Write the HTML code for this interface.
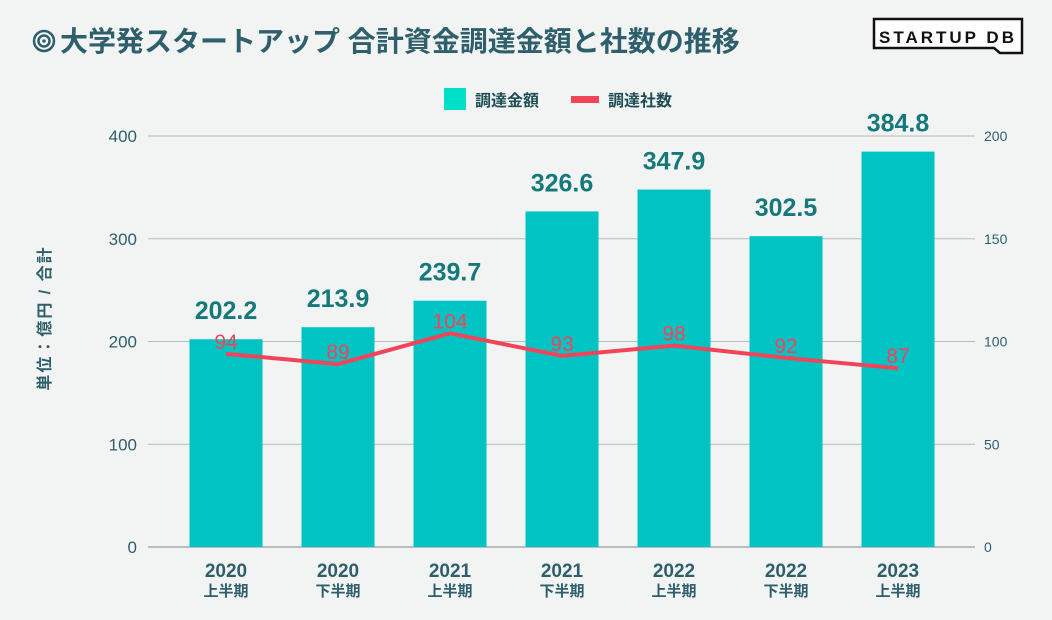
<!DOCTYPE html>
<html><head><meta charset="utf-8">
<style>
body{margin:0;background:#f1f4f3;}
svg{display:block;font-family:"Liberation Sans","Noto Sans CJK JP",sans-serif;}
</style></head>
<body>
<svg id="chart" width="1052" height="620" viewBox="0 0 1052 620" xmlns="http://www.w3.org/2000/svg">
<rect width="1052" height="620" fill="#f1f4f3"/>
<g>
<circle cx="44" cy="41" r="10" fill="none" stroke="#2f5f6c" stroke-width="2.5"/>
<circle cx="44" cy="41" r="5.5" fill="none" stroke="#2f5f6c" stroke-width="2.5"/>
<circle cx="44" cy="41" r="1.8" fill="#2f5f6c"/>
<text x="60" y="51" font-size="28" font-weight="bold" fill="#2f5f6c">大学発スタートアップ 合計資金調達金額と社数の推移</text>
</g>
<g>
<path d="M874 19 H1022 V53 H1000 L994 48 H874 Z" fill="#fff" stroke="#111" stroke-width="2.5"/>
<text x="948" y="43" font-size="17" font-weight="bold" fill="#111" text-anchor="middle" letter-spacing="3">STARTUP DB</text>
</g>
<g>
<rect x="444" y="88" width="22" height="22" fill="#00e0c8"/>
<text x="475" y="106" font-size="16" font-weight="bold" fill="#1e4d55">調達金額</text>
<rect x="571" y="96" width="28" height="7" fill="#f24459"/>
<text x="608" y="106" font-size="16" font-weight="bold" fill="#1e4d55">調達社数</text>
</g>
<text transform="translate(50,318) rotate(-90)" text-anchor="middle" font-size="16" font-weight="bold" fill="#2f5f6c" letter-spacing="2">単位：億円 / 合計</text>
<g id="grid"></g><g id="bars"></g><g id="line"></g><g id="labels"></g>
</svg>
<script>
const categories=["2020|上半期","2020|下半期","2021|上半期","2021|下半期","2022|上半期","2022|下半期","2023|上半期"];
const amounts=[202.2,213.9,239.7,326.6,347.9,302.5,384.8];
const counts=[94,89,104,93,98,92,87];
const leftTicks=[0,100,200,300,400];
const rightTicks=[0,50,100,150,200];
const NS="http://www.w3.org/2000/svg";
const y0=547,y1=136,xL=148,xR=975;
const yL=v=>y0-(v/400)*(y0-y1);
const yR=v=>y0-(v/200)*(y0-y1);
const xC=i=>226+i*112;
function mk(tag,attrs,parent,text){const e=document.createElementNS(NS,tag);for(const k in attrs)e.setAttribute(k,attrs[k]);if(text!==undefined)e.textContent=text;document.getElementById(parent).appendChild(e);return e;}
leftTicks.forEach((t,i)=>{
 const l=mk("line",{x1:xL,x2:xR,y1:yL(t),y2:yL(t),stroke:i==0?"#888":"#b5bcbb","stroke-width":1},"grid");
 
 
 const tx=mk("text",{x:137,y:yL(t)+6,"text-anchor":"end","font-size":17,fill:"#2f5f6c"},"grid",t);
 
 
});
rightTicks.forEach(t=>{
 const tx=mk("text",{x:984,y:yR(t)+5,"font-size":14,fill:"#2f5f6c"},"grid",t);
 
 
});
amounts.forEach((v,i)=>{
 const b=mk("rect",{x:xC(i)-36.5,y:yL(v),width:73,height:y0-yL(v),fill:"#00c4c4"},"bars");
 
 
 const t=mk("text",{x:xC(i),y:yL(v)-20,"text-anchor":"middle","font-size":25,"font-weight":"bold",fill:"#15787a"},"labels",v.toFixed(1));
 
 
 const [yr,h]=categories[i].split("|");
 const c1=mk("text",{x:xC(i),y:577,"text-anchor":"middle","font-size":19,"font-weight":"bold",fill:"#2f5f6c"},"labels",yr);
 
 
 const c2=mk("text",{x:xC(i),y:596,"text-anchor":"middle","font-size":15,"font-weight":"bold",fill:"#2f5f6c"},"labels",h);
 
 
});
const pl=mk("polyline",{points:counts.map((v,i)=>xC(i)+","+yR(v)).join(" "),fill:"none",stroke:"#f24459","stroke-width":4,"stroke-linejoin":"round"},"line");


counts.forEach((v,i)=>{
 const t=mk("text",{x:xC(i),y:yR(v)-5,"text-anchor":"middle","font-size":21,fill:"#f24459"},"labels",v);
 
 
});
</script>
</body></html>
